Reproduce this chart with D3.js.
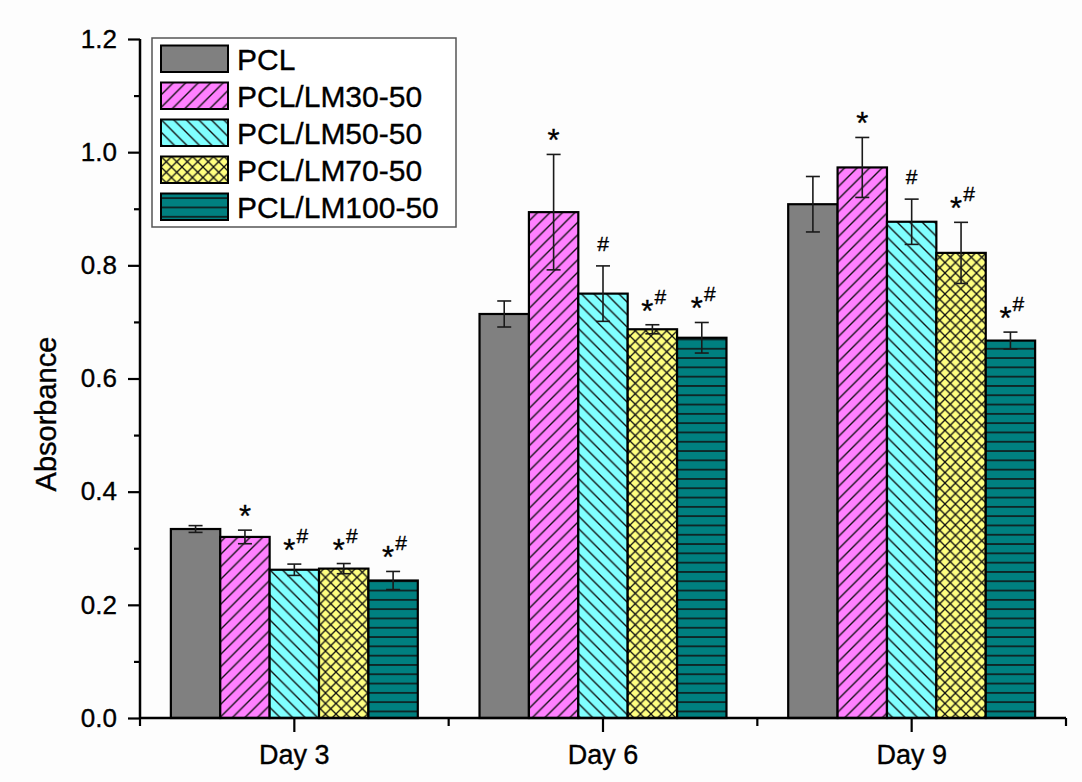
<!DOCTYPE html>
<html>
<head>
<meta charset="utf-8">
<script src="https://cdn.jsdelivr.net/npm/d3@7/dist/d3.min.js"></script>
<style>
  html, body { margin: 0; padding: 0; background: #fdfdfd; }
  svg { display: block; }
  text { font-family: "Liberation Sans", Arial, sans-serif; fill: #000; stroke: #000; stroke-width: 0.35px; }
</style>
</head>
<body>
<svg id="chart" width="1082" height="782"></svg>
<script>
// ---------------- data ----------------
const days = ["Day 3", "Day 6", "Day 9"];
const seriesNames = ["PCL", "PCL/LM30-50", "PCL/LM50-50", "PCL/LM70-50", "PCL/LM100-50"];
// mean absorbance per series, one value per day
const valPCL     = [0.334, 0.714, 0.908];
const valLM30    = [0.320, 0.894, 0.973];
const valLM50    = [0.262, 0.750, 0.877];
const valLM70    = [0.264, 0.687, 0.822];
const valLM100   = [0.243, 0.672, 0.667];
// standard deviations
const errPCL     = [0.006, 0.023, 0.049];
const errLM30    = [0.012, 0.102, 0.053];
const errLM50    = [0.010, 0.049, 0.040];
const errLM70    = [0.009, 0.008, 0.054];
const errLM100   = [0.016, 0.027, 0.015];
// significance labels
const sigPCL     = ["", "", ""];
const sigLM30    = ["*", "*", "*"];
const sigLM50    = ["*#", "#", "#"];
const sigLM70    = ["*#", "*#", "*#"];
const sigLM100   = ["*#", "*#", "*#"];
const yTicks = [0.0, 0.2, 0.4, 0.6, 0.8, 1.0, 1.2];
const yMinorTicks = [0.1, 0.3, 0.5, 0.7, 0.9, 1.1];

const values = [valPCL, valLM30, valLM50, valLM70, valLM100];
const errors = [errPCL, errLM30, errLM50, errLM70, errLM100];
const sigs = [sigPCL, sigLM30, sigLM50, sigLM70, sigLM100];
const fills = ["#808080", "#ff80ff", "#80ffff", "#ffff80", "#008080"];
const patternIds = ["pSolid", "pFwd", "pBack", "pCross", "pHoriz"];

// ---------------- layout ----------------
const svg = d3.select("#chart");
const x0 = 140, x1 = 1066, yTop = 39, yBot = 718;

const x = d3.scaleBand().domain(days).range([x0, x1]).paddingInner(0).paddingOuter(0);
const y = d3.scaleLinear().domain([0, 1.2]).range([yBot, yTop]);
const groupFrac = 0.8;
const bw = x.bandwidth() * groupFrac / seriesNames.length;

// ---------------- patterns ----------------
const defs = svg.append("defs");
function pat(id, w, h, bg, paths, sw) {
  const p = defs.append("pattern").attr("id", id).attr("patternUnits", "userSpaceOnUse")
    .attr("width", w).attr("height", h);
  p.append("rect").attr("width", w).attr("height", h).attr("fill", bg);
  paths.forEach(d => p.append("path").attr("d", d).attr("stroke", "#111").attr("stroke-width", sw).attr("fill", "none"));
}
pat("pSolid", 10, 10, fills[0], [], 0);
const s1 = 12.5;
pat("pFwd", s1, s1, fills[1], [`M0,${s1} L${s1},0`, `M${-s1/2},${s1/2} L${s1/2},${-s1/2}`, `M${s1/2},${s1*1.5} L${s1*1.5},${s1/2}`], 1.4);
pat("pBack", s1, s1, fills[2], [`M0,0 L${s1},${s1}`, `M${-s1/2},${s1/2} L${s1/2},${s1*1.5}`, `M${s1/2},${-s1/2} L${s1*1.5},${s1/2}`], 1.4);
const s2 = 10.5;
pat("pCross", s2, s2, fills[3], [`M0,${s2} L${s2},0`, `M0,0 L${s2},${s2}`,
  `M${-s2/2},${s2/2} L${s2/2},${-s2/2}`, `M${s2/2},${s2*1.5} L${s2*1.5},${s2/2}`,
  `M${-s2/2},${s2/2} L${s2/2},${s2*1.5}`, `M${s2/2},${-s2/2} L${s2*1.5},${s2/2}`], 1.3);
const s3 = 9.3;
pat("pHoriz", 20, s3, fills[4], [`M0,${s3/2} L20,${s3/2}`], 1.5);

// ---------------- bars ----------------
const barData = [];
seriesNames.forEach((name, si) => {
  days.forEach((d, di) => {
    const cx = x(d) + x.bandwidth() / 2 + (si - (seriesNames.length - 1) / 2) * bw;
    barData.push({ si, di, cx, v: values[si][di], e: errors[si][di], s: sigs[si][di] });
  });
});

const gBars = svg.append("g");
gBars.selectAll("rect").data(barData).enter().append("rect")
  .attr("x", d => d.cx - bw / 2)
  .attr("y", d => y(d.v))
  .attr("width", bw)
  .attr("height", d => y(0) - y(d.v))
  .attr("fill", d => `url(#${patternIds[d.si]})`)
  .attr("stroke", "#000")
  .attr("stroke-width", 2.2);

// error bars
const capW = 14;
const gErr = svg.append("g").attr("stroke", "#1a1a1a").attr("stroke-width", 1.6).attr("fill", "none");
barData.forEach(d => {
  const yt = y(d.v + d.e), yb = y(d.v - d.e);
  gErr.append("line").attr("x1", d.cx).attr("x2", d.cx).attr("y1", yt).attr("y2", yb);
  gErr.append("line").attr("x1", d.cx - capW / 2).attr("x2", d.cx + capW / 2).attr("y1", yt).attr("y2", yt);
  gErr.append("line").attr("x1", d.cx - capW / 2).attr("x2", d.cx + capW / 2).attr("y1", yb).attr("y2", yb);
});

// significance marks
const gSig = svg.append("g");
barData.forEach(d => {
  if (!d.s) return;
  const cap = y(d.v + d.e);
  const hasStar = d.s.includes("*"), hasHash = d.s.includes("#");
  if (hasStar) {
    gSig.append("text").attr("x", hasHash ? d.cx - 5 : d.cx).attr("y", cap - 3)
      .attr("text-anchor", "middle").attr("font-size", 31).text("*");
  }
  if (hasHash) {
    gSig.append("text").attr("x", hasStar ? d.cx + 8 : d.cx).attr("y", hasStar ? cap - 21 : cap - 15)
      .attr("text-anchor", "middle").attr("font-size", 21).text("#");
  }
});

// ---------------- axes ----------------
const yAxis = d3.axisLeft(y).tickValues(yTicks).tickSize(12).tickPadding(11).tickFormat(d3.format(".1f"));
const gy = svg.append("g").attr("transform", `translate(${x0},0)`).call(yAxis);
const gyMinor = svg.append("g").attr("transform", `translate(${x0},0)`)
  .call(d3.axisLeft(y).tickValues(yMinorTicks).tickSize(6).tickFormat(""));

const xAxis = d3.axisBottom(x).tickSize(14).tickPadding(13);
const gx = svg.append("g").attr("transform", `translate(0,${yBot})`).call(xAxis);
// minor ticks at band boundaries
const bounds = days.map(d => x(d)).concat([x1]);
const gxMinor = svg.append("g").attr("transform", `translate(0,${yBot})`);
gxMinor.selectAll("line").data(bounds).enter().append("line")
  .attr("x1", d => d).attr("x2", d => d).attr("y1", 0).attr("y2", 8)
  .attr("stroke", "#000").attr("stroke-width", 2.2);

[gy, gyMinor, gx].forEach(g => {
  g.select(".domain").attr("stroke", "#000").attr("stroke-width", 2.5);
  g.selectAll(".tick line").attr("stroke", "#000").attr("stroke-width", 2.2);
});
gyMinor.select(".domain").remove();
gy.select(".domain").attr("d", `M0,${yTop}V${yBot}`);
gx.select(".domain").attr("d", `M${x0},0H${x1}`);
gy.selectAll(".tick text").attr("font-size", 26).attr("font-family", "Liberation Sans, Arial, sans-serif").attr("fill", "#000");
gx.selectAll(".tick text").attr("font-size", 27).attr("font-family", "Liberation Sans, Arial, sans-serif").attr("fill", "#000");

// y label
svg.append("text").attr("transform", `translate(56,414) rotate(-90)`)
  .attr("text-anchor", "middle").attr("font-size", 29).text("Absorbance");

// ---------------- legend ----------------
const lg = svg.append("g");
lg.append("rect").attr("x", 152).attr("y", 38).attr("width", 304).attr("height", 189)
  .attr("fill", "#fff").attr("stroke", "#555").attr("stroke-width", 1.5);
const lgRows = lg.selectAll("g.row").data(seriesNames).enter().append("g")
  .attr("transform", (d, i) => `translate(161,${45.5 + i * 37})`);
lgRows.append("rect").attr("width", 67).attr("height", 26.5)
  .attr("fill", (d, i) => `url(#${patternIds[i]})`).attr("stroke", "#000").attr("stroke-width", 2);
lgRows.append("text").attr("x", 76).attr("y", 13.25 + 10.8).attr("font-size", 30).text(d => d);
</script>
</body>
</html>
